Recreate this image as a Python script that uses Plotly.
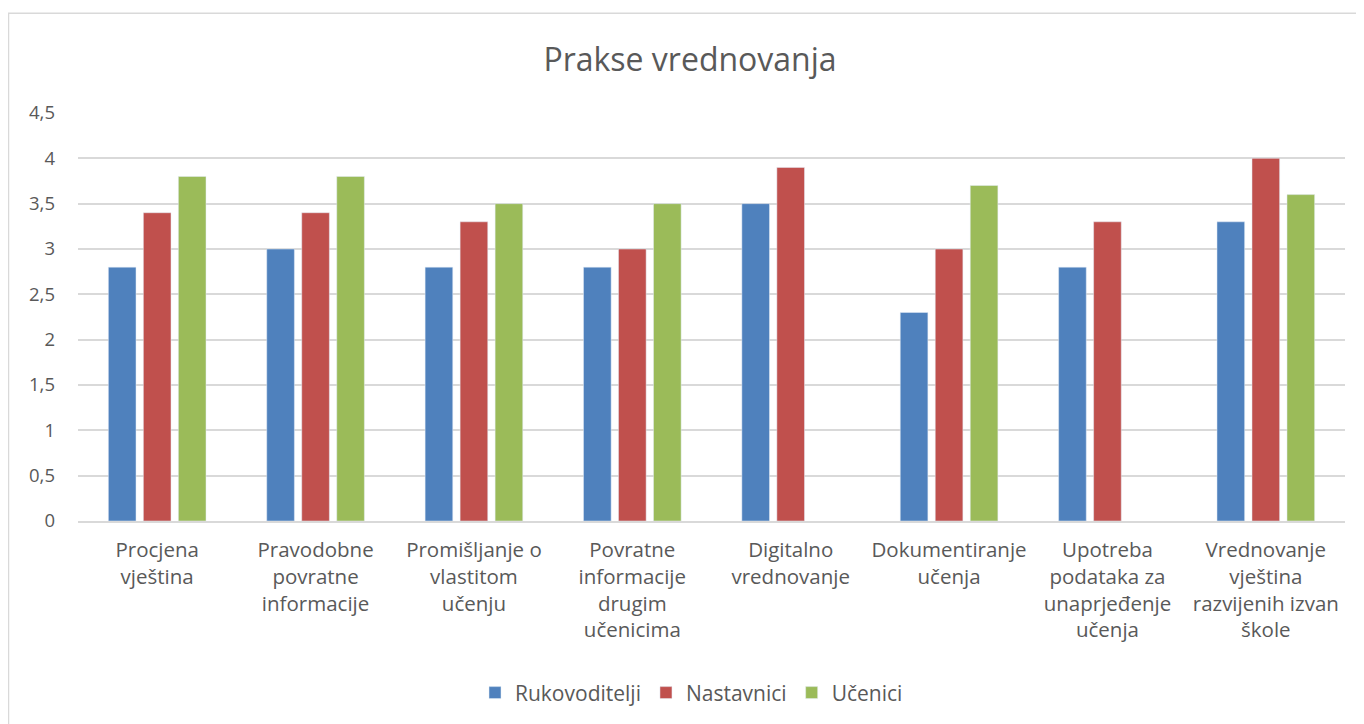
import plotly.graph_objects as go

categories = [
    "Procjena<br>vještina",
    "Pravodobne<br>povratne<br>informacije",
    "Promišljanje o<br>vlastitom<br>učenju",
    "Povratne<br>informacije<br>drugim<br>učenicima",
    "Digitalno<br>vrednovanje",
    "Dokumentiranje<br>učenja",
    "Upotreba<br>podataka za<br>unaprjeđenje<br>učenja",
    "Vrednovanje<br>vještina<br>razvijenih izvan<br>škole",
]
rukovoditelji = [2.8, 3.0, 2.8, 2.8, 3.5, 2.3, 2.8, 3.3]
nastavnici = [3.4, 3.4, 3.3, 3.0, 3.9, 3.0, 3.3, 4.0]
ucenici = [3.8, 3.8, 3.5, 3.5, None, 3.7, None, 3.6]
y_ticks = [0, 0.5, 1, 1.5, 2, 2.5, 3, 3.5, 4, 4.5]
y_tick_labels = ["0", "0,5", "1", "1,5", "2", "2,5", "3", "3,5", "4", "4,5"]

FONT = "Open Sans"
TXT = "#595959"
W, H = 1356, 716  # page body has an 8px margin

fig = go.Figure()
fig.add_trace(go.Bar(name="Rukovoditelji", x=categories, y=rukovoditelji,
                     marker=dict(color="#4F81BD")))
fig.add_trace(go.Bar(name="Nastavnici", x=categories, y=nastavnici,
                     marker=dict(color="#C0504D")))
fig.add_trace(go.Bar(name="Učenici", x=categories, y=ucenici,
                     marker=dict(color="#9BBB59")))

fig.update_layout(
    width=W, height=H,
    barmode="group", bargap=0.337, bargroupgap=0.21,
    paper_bgcolor="white", plot_bgcolor="white",
    margin=dict(l=70, r=19, t=105, b=202),
    font=dict(family=FONT, color=TXT, size=20),
    title=dict(text="Prakse vrednovanja", x=682 / W, xref="container",
               xanchor="center", y=1 - 52 / H, yref="container", yanchor="middle",
               font=dict(family=FONT, size=32, color=TXT)),
    legend=dict(orientation="h", x=0.5 - 20 / 1267, xref="paper", xanchor="center",
                y=-0.418, yanchor="middle", font=dict(size=21, color=TXT),
                traceorder="normal"),
    showlegend=True,
    shapes=[dict(type="rect", xref="paper", yref="paper",
                 x0=-69.5 / 1267, x1=1400 / 1267, y0=-1.0, y1=(409 + 100) / 409,
                 line=dict(color="#D9D9D9", width=1.5), layer="below")],
)
fig.update_xaxes(showgrid=False, showline=True, linecolor="#D9D9D9", linewidth=1.5,
                 ticks="", tickfont=dict(size=20.5, color=TXT), tickangle=0,
                 ticklabelstandoff=10)
fig.update_yaxes(range=[0, 4.5], tickvals=y_ticks, ticktext=y_tick_labels,
                 showgrid=True, gridcolor="#D9D9D9", gridwidth=1.5,
                 zeroline=False, showline=False, ticks="",
                 ticklabelstandoff=22, tickfont=dict(size=18.5, color=TXT))

fig.write_html("out.html")
